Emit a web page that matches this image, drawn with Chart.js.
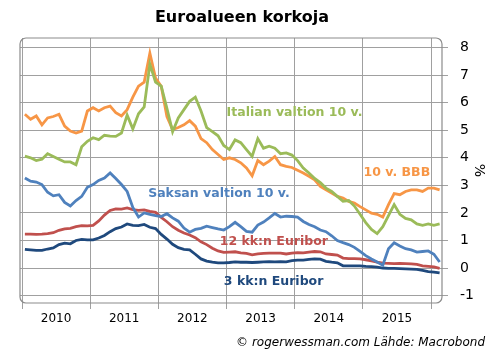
<!DOCTYPE html>
<html>
<head>
<meta charset="utf-8">
<script src="https://cdn.jsdelivr.net/npm/chart.js@4/dist/chart.umd.min.js"></script>
<style>
  html, body { margin: 0; padding: 0; background: #fff; }
</style>
</head>
<body>
<canvas id="chart" width="496" height="361"></canvas>
<script>
// ===============================
// Data (monthly, Jan 2010 - Feb 2016)
// ===============================
const startYear = 2010;
const yearTicks = [2010, 2011, 2012, 2013, 2014, 2015, 2016];
const yearLabels = ["2010", "2011", "2012", "2013", "2014", "2015", ""];
const valueTicks = [-1, 0, 1, 2, 3, 4, 5, 6, 7, 8];

const italy10 = [
    4.06, 4.0, 3.9, 3.95, 4.15, 4.05, 3.95, 3.85, 3.85, 3.75, 4.4, 4.6,
    4.73, 4.66, 4.82, 4.79, 4.78, 4.9, 5.55, 5.05, 5.6, 5.85, 7.4, 6.75,
    6.6, 5.8, 4.95, 5.45, 5.75, 6.05, 6.2, 5.7, 5.1, 4.95, 4.8, 4.45,
    4.3, 4.65, 4.55, 4.3, 4.05, 4.7, 4.35, 4.42, 4.35, 4.15, 4.18, 4.1,
    3.9, 3.63, 3.45, 3.25, 3.1, 2.9, 2.78, 2.6, 2.42, 2.45, 2.25, 1.95,
    1.65, 1.4, 1.25, 1.5, 1.9, 2.3, 1.95, 1.8, 1.75, 1.6, 1.55, 1.6,
    1.55, 1.6
];
const bbb10 = [
    5.58, 5.4, 5.52, 5.2, 5.45, 5.5, 5.58, 5.15, 4.97, 4.9, 4.97, 5.7,
    5.82, 5.7, 5.82, 5.88, 5.64, 5.52, 5.75, 6.2, 6.6, 6.75, 7.8, 6.9,
    6.6, 5.5, 5.03, 5.1, 5.2, 5.35, 5.15, 4.7, 4.55, 4.3, 4.12, 3.94,
    4.0, 3.94, 3.82, 3.63, 3.35, 3.9, 3.75, 3.88, 4.05, 3.75, 3.69, 3.65,
    3.55, 3.45, 3.33, 3.2, 2.96, 2.84, 2.72, 2.6, 2.54, 2.42, 2.36, 2.23,
    2.11, 1.99, 1.95, 1.85, 2.3, 2.7, 2.66, 2.78, 2.84, 2.84, 2.78, 2.9,
    2.9, 2.84
];
const germany10 = [
    3.27, 3.15, 3.12, 3.03, 2.75, 2.62, 2.66, 2.38, 2.25, 2.45, 2.6, 2.93,
    3.03, 3.18, 3.27, 3.45, 3.25, 3.03, 2.78, 2.2, 1.85, 2.0, 1.95, 1.9,
    1.87, 1.97, 1.82, 1.7, 1.45, 1.3, 1.4, 1.44, 1.52, 1.47, 1.42, 1.38,
    1.5, 1.66, 1.5, 1.33, 1.3, 1.56, 1.67, 1.82, 1.98, 1.85, 1.88, 1.87,
    1.85, 1.69, 1.58, 1.5, 1.38, 1.32, 1.17, 1.0, 0.92, 0.85, 0.75, 0.6,
    0.45, 0.33, 0.22, 0.1, 0.7, 0.92, 0.8, 0.7, 0.66, 0.58, 0.6, 0.62,
    0.5, 0.22
];
const euribor12 = [
    1.23, 1.23, 1.22, 1.23, 1.25, 1.28, 1.37, 1.42, 1.44, 1.5, 1.54, 1.53,
    1.55, 1.71, 1.92, 2.09, 2.15, 2.14, 2.18, 2.12, 2.09, 2.11, 2.06, 2.02,
    1.84, 1.68, 1.5, 1.37, 1.27, 1.2, 1.1, 0.95, 0.85, 0.72, 0.62, 0.57,
    0.58, 0.59, 0.55, 0.53, 0.48, 0.51, 0.53, 0.54, 0.54, 0.54, 0.51, 0.54,
    0.56, 0.55, 0.58, 0.6, 0.59, 0.51, 0.49, 0.47, 0.36, 0.34, 0.34, 0.33,
    0.3, 0.26, 0.21, 0.18, 0.17, 0.16, 0.17, 0.16, 0.15, 0.13, 0.08, 0.06,
    0.04, -0.01
];
const euribor3 = [
    0.68, 0.66, 0.64, 0.64, 0.69, 0.73, 0.85, 0.9, 0.88, 1.0, 1.04, 1.02,
    1.02, 1.09, 1.18, 1.32, 1.43, 1.49, 1.6, 1.55, 1.54, 1.58, 1.48, 1.43,
    1.22, 1.05, 0.86, 0.74, 0.68, 0.66, 0.5, 0.33, 0.25, 0.21, 0.19, 0.19,
    0.2, 0.22, 0.21, 0.21, 0.2, 0.21, 0.22, 0.23, 0.22, 0.23, 0.22, 0.27,
    0.29, 0.29, 0.31, 0.33, 0.32, 0.24, 0.21, 0.19, 0.08, 0.08, 0.08, 0.08,
    0.06, 0.05, 0.03, 0.0, -0.01, -0.01, -0.02, -0.03, -0.04, -0.05, -0.09, -0.13,
    -0.15, -0.18
];

// in-chart series labels (anchored in data units)
const seriesLabels = [
    { text: "Italian valtion 10 v.", x: 2013.0, y: 5.62, color: "#9bbb59" },
    { text: "10 v. BBB", x: 2015.01, y: 3.45, color: "#f79646" },
    { text: "Saksan valtion 10 v.", x: 2011.85, y: 2.70, color: "#4f81bd" },
    { text: "12 kk:n Euribor", x: 2012.9, y: 0.95, color: "#c0504d" },
    { text: "3 kk:n Euribor", x: 2012.96, y: -0.51, color: "#1f497d" }
];

const FONT = "'DejaVu Sans', Verdana, sans-serif";

function toPoints(arr) {
    return arr.map((v, i) => ({ x: startYear + (i + 0.5) / 12, y: v }));
}

function lineSet(label, arr, color) {
    return {
        label: label,
        data: toPoints(arr),
        borderColor: color,
        borderWidth: 2.8,
        pointRadius: 0,
        fill: false,
        tension: 0
    };
}

// ===============================
// Extra drawing: frame, labels, title, footer
// ===============================
const decorPlugin = {
    id: "decor",
    afterDatasetsDraw(chart) {
        const c = chart.ctx;
        const a = chart.chartArea;
        const xs = chart.scales.x, ys = chart.scales.y;

        c.save();
        c.strokeStyle = "#8c8c8c";
        c.lineWidth = 1.2;
        c.beginPath();
        c.roundRect(a.left, a.top, a.right - a.left, a.bottom - a.top, 6);
        c.stroke();

        c.font = "bold 12.5px " + FONT;
        c.textAlign = "left";
        c.textBaseline = "middle";
        seriesLabels.forEach(l => {
            c.fillStyle = l.color;
            c.fillText(l.text, xs.getPixelForValue(l.x), ys.getPixelForValue(l.y));
        });
        c.restore();
    },
    afterDraw(chart) {
        const c = chart.ctx;
        c.save();
        c.fillStyle = "#000";
        c.textBaseline = "middle";
        c.textAlign = "center";
        c.font = "bold 16px " + FONT;
        c.fillText("Euroalueen korkoja", 242, 18);
        c.textAlign = "right";
        c.font = "italic 12px " + FONT;
        c.fillText("\u00a9 rogerwessman.com L\u00e4hde: Macrobond", 485, 343);
        c.restore();
    }
};

const ctx = document.getElementById("chart").getContext("2d");

const chart = new Chart(ctx, {
    type: "line",
    data: {
        datasets: [
            lineSet("Saksan valtion 10 v.", germany10, "#4f81bd"),
            lineSet("Italian valtion 10 v.", italy10, "#9bbb59"),
            lineSet("10 v. BBB", bbb10, "#f79646"),
            lineSet("3 kk:n Euribor", euribor3, "#1f497d"),
            lineSet("12 kk:n Euribor", euribor12, "#c0504d")
        ]
    },
    options: {
        responsive: false,
        animation: false,
        layout: { padding: { top: 38, left: 20, right: 5, bottom: 28 } },
        plugins: {
            legend: { display: false },
            tooltip: { enabled: false }
        },
        scales: {
            x: {
                type: "linear",
                min: 2009.97,
                max: 2016.16,
                afterBuildTicks: s => { s.ticks = yearTicks.map(v => ({ value: v })); },
                afterFit: s => { s.height = 30; },
                border: { display: false },
                grid: { color: "#a0a0a0", lineWidth: 1, tickLength: 6 },
                ticks: {
                    autoSkip: false,
                    maxRotation: 0,
                    labelOffset: 34,
                    padding: 3,
                    color: "#000",
                    font: { family: FONT, size: 12 },
                    callback: v => yearLabels[yearTicks.indexOf(v)]
                }
            },
            y: {
                position: "right",
                min: -1.27,
                max: 8.35,
                afterBuildTicks: s => { s.ticks = valueTicks.map(v => ({ value: v })); },
                afterFit: s => { s.width = 49; },
                border: { display: false },
                grid: { color: "#a0a0a0", lineWidth: 1, tickLength: 6 },
                ticks: {
                    padding: 12,
                    color: "#000",
                    font: { family: FONT, size: 14 },
                    callback: v => String(v)
                },
                title: {
                    display: true,
                    text: "%",
                    color: "#000",
                    font: { family: FONT, size: 14 },
                    padding: { top: 4, bottom: 4 }
                }
            }
        }
    },
    plugins: [decorPlugin]
});
</script>
</body>
</html>
